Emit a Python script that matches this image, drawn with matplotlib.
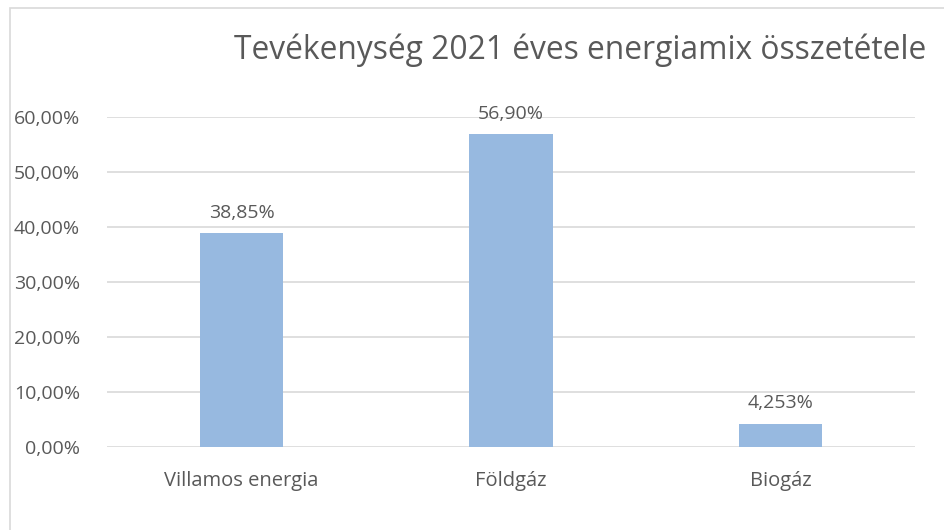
import matplotlib
matplotlib.use("Agg")
import matplotlib.pyplot as plt
from matplotlib.patches import Rectangle

categories = ["Villamos energia", "Földgáz", "Biogáz"]
values = [38.85, 56.90, 4.253]
value_labels = ["38,85%", "56,90%", "4,253%"]
yticks = [0, 10, 20, 30, 40, 50, 60]
ytick_labels = ["0,00%", "10,00%", "20,00%", "30,00%", "40,00%", "50,00%", "60,00%"]
title = "Tevékenység 2021 éves energiamix összetétele"

plt.rcParams['font.family'] = ['Open Sans', 'DejaVu Sans']
W, H = 944, 530
fig = plt.figure(figsize=(W/100, H/100), dpi=100)
txt = "#595959"
bar_color = "#97B9E0"

ax = fig.add_axes([107/W, 1-447/H, (915-107)/W, (447-117)/H])
x = range(len(categories))
ax.bar(x, values, width=0.31, color=bar_color, zorder=3)
ax.set_xlim(-0.5, 2.5)
ax.set_ylim(0, 60)
ax.set_yticks(yticks)
ax.set_yticklabels(ytick_labels, fontsize=14, color=txt)
ax.set_xticks(list(x))
ax.set_xticklabels(categories, fontsize=14.5, color=txt)
ax.tick_params(axis='both', length=0)
ax.tick_params(axis='y', pad=19.5)
ax.tick_params(axis='x', pad=17)
for s in ax.spines.values():
    s.set_visible(False)
ax.grid(axis='y', color="#D9D9D9", linewidth=1.2, zorder=0)
ax.set_axisbelow(True)
for xi, v, lab in zip(x, values, value_labels):
    ax.annotate(lab, (xi, v), xytext=(0, 8), textcoords='offset points',
                ha='center', va='bottom', fontsize=14, color=txt)

fig.text(580/W, 1-50/H, title, ha='center', va='center', fontsize=22.9, color=txt)

fig.patches.append(Rectangle((10/W, -0.1), 1.1, 1-8/H+0.1, transform=fig.transFigure,
                             fill=False, edgecolor="#D9D9D9", linewidth=1.2))
fig.savefig("out.png", dpi=100)
